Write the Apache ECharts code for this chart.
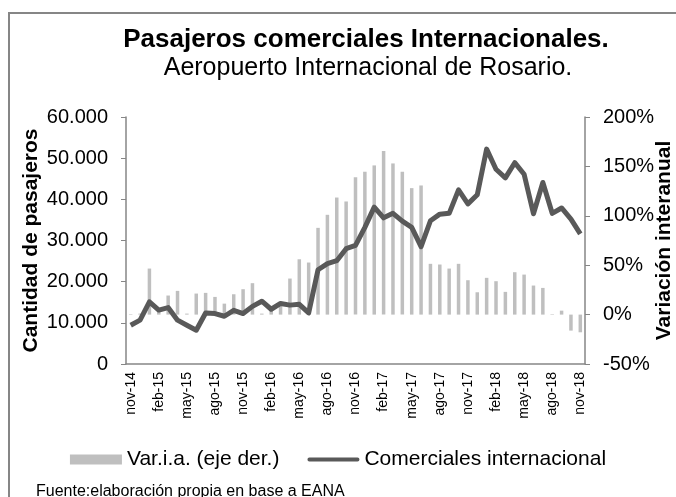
<!DOCTYPE html>
<html>
<head>
<meta charset="utf-8">
<script src="https://cdn.jsdelivr.net/npm/echarts@6/dist/echarts.min.js"></script>
<style>
html, body { margin: 0; padding: 0; background: #fff; }
#chart { width: 676px; height: 497px; }
</style>
</head>
<body>
<div id="chart"></div>
<script>
// Meses nov-14 .. nov-18
var meses = ['ene','feb','mar','abr','may','jun','jul','ago','sep','oct','nov','dic'];
var categorias = [];
for (var k = 0; k < 49; k++) {
    var m = (10 + k) % 12;
    var y = 14 + Math.floor((10 + k) / 12);
    categorias.push(meses[m] + '-' + y);
}

// Comerciales internacional (pasajeros)
var pasajeros = [
    9400, 10650, 15100, 13100, 13700, 10650, 9400, 8200, 12400, 12250,
    11600, 13050, 12250, 14000, 15250, 13300, 14700, 14300, 14500, 12400,
    22900, 24400, 25100, 28000, 28800, 33200, 38100, 35500, 36600, 34700,
    33200, 28500, 34800, 36400, 36600, 42300, 38900, 41100, 52200, 47300,
    45200, 48900, 46100, 36500, 44100, 36600, 37900, 35200, 31600
];

// Var.i.a. (eje der.), en %
var variacion = [
    0.5, 1, 46.6, 5, 19.3, 24, 1, 21.3, 22, 17.9,
    11.1, 20.6, 25.7, 31.8, 1, 4, 11, 36.5, 56, 52.7,
    87.8, 101, 118.5, 114.5, 139, 144.6, 151, 165.5, 153, 144.6,
    128, 130.7, 51.4, 50.7, 46.6, 51.4, 34.8, 22.6, 37.2, 33.8,
    23, 42.9, 40.5, 29.4, 27, 0.5, 4, -16.2, -17.9
];

var FONT = 'Liberation Sans';
var axisGray = '#868686';

// las etiquetas del eje X del original son angostas
function medir(font) {
    var c = document.createElement('canvas').getContext('2d');
    c.font = font;
    return c.measureText('nov-14 may-15').width;
}
var hayNarrow = medir('17px "Liberation Sans Narrow", monospace') !== medir('17px monospace');
var xFont = hayNarrow ? 'Liberation Sans Narrow' : FONT;
var xSize = hayNarrow ? 17 : 14;

var dom = document.getElementById('chart');
var myChart = echarts.init(dom);

var option = {
    animation: false,
    textStyle: { fontFamily: FONT },
    title: [
        {
            text: 'Pasajeros comerciales Internacionales.',
            left: 361, top: 22, textAlign: 'center',
            textStyle: { fontFamily: FONT, fontSize: 26, fontWeight: 'bold', color: '#000' }
        },
        {
            text: 'Aeropuerto Internacional de Rosario.',
            left: 363, top: 51, textAlign: 'center',
            textStyle: { fontFamily: FONT, fontSize: 25, fontWeight: 'normal', color: '#000' }
        },
        {
            text: 'Fuente:elaboración propia en base a EANA',
            left: 31, top: 479,
            textStyle: { fontFamily: FONT, fontSize: 16, fontWeight: 'normal', color: '#000' }
        }
    ],
    graphic: [{
        type: 'rect',
        shape: { x: 9, y: 13, width: 720, height: 600 },
        style: { fill: null, stroke: axisGray, lineWidth: 2 },
        silent: true
    }],
    legend: {
        left: 'center',
        top: 444,
        itemWidth: 52,
        itemHeight: 10,
        itemGap: 28,
        textStyle: { fontFamily: FONT, fontSize: 21, color: '#000' },
        data: [
            { name: 'Var.i.a. (eje der.)', icon: 'rect' },
            {
                name: 'Comerciales internacional',
                icon: 'path://M2,0 L52,0 A2,2 0 0 1 52,4 L2,4 A2,2 0 0 1 2,0 Z',
                itemStyle: { color: '#595959' }
            }
        ]
    },
    grid: { left: 126, right: 91, top: 117, bottom: 133, outerBoundsMode: 'none', containLabel: false },
    xAxis: {
        type: 'category',
        data: categorias,
        boundaryGap: true,
        axisLine: { lineStyle: { color: axisGray, width: 1.5 } },
        axisTick: { interval: 2, length: 5, lineStyle: { color: axisGray } },
        axisLabel: {
            interval: 2, rotate: 90, fontFamily: xFont, fontSize: xSize, color: '#000', margin: 8
        }
    },
    yAxis: [
        {
            type: 'value',
            min: 0, max: 60000, interval: 10000,
            name: 'Cantidad de pasajeros',
            nameLocation: 'middle',
            nameGap: 84,
            nameRotate: 90,
            nameMoveOverlap: false,
            nameTextStyle: { fontFamily: FONT, fontSize: 21, fontWeight: 'bold', color: '#000' },
            axisLine: { show: true, lineStyle: { color: axisGray, width: 1.5 } },
            axisTick: { show: true, length: 5, lineStyle: { color: axisGray } },
            splitLine: { show: false },
            axisLabel: {
                fontSize: 20, color: '#000', margin: 18,
                formatter: function (v) {
                    return v === 0 ? '0' : (v / 1000).toFixed(0) + '.000';
                }
            }
        },
        {
            type: 'value',
            min: -50, max: 200, interval: 50,
            name: 'Variación interanual',
            nameLocation: 'middle',
            nameGap: 69,
            nameRotate: 90,
            nameMoveOverlap: false,
            nameTextStyle: { fontFamily: FONT, fontSize: 21, fontWeight: 'bold', color: '#000' },
            axisLine: { show: true, lineStyle: { color: axisGray, width: 1.5 } },
            axisTick: { show: true, length: 5, lineStyle: { color: axisGray } },
            splitLine: { show: false },
            axisLabel: { fontSize: 20, color: '#000', margin: 18, formatter: '{value}%' }
        }
    ],
    series: [
        {
            name: 'Var.i.a. (eje der.)',
            type: 'bar',
            yAxisIndex: 1,
            barWidth: 3.5,
            itemStyle: { color: '#bfbfbf' },
            data: variacion
        },
        {
            name: 'Comerciales internacional',
            type: 'line',
            yAxisIndex: 0,
            symbol: 'none',
            lineStyle: { color: '#595959', width: 5, join: 'round' },
            itemStyle: { color: '#595959' },
            data: pasajeros
        }
    ]
};

if (option && typeof option === "object") {
    myChart.setOption(option, true);
}
</script>
</body>
</html>
